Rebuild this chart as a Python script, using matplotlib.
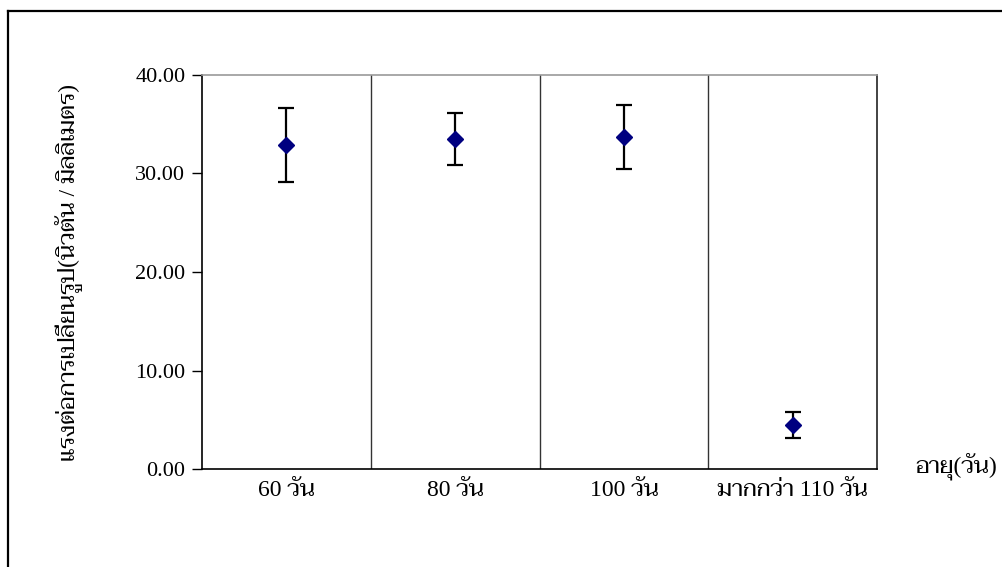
import matplotlib
matplotlib.use("Agg")
import matplotlib.pyplot as plt
from matplotlib.lines import Line2D

# ค่าเฉลี่ยแรงต่อการเปลี่ยนรูป และค่าเบี่ยงเบน ตามอายุ
ages = ["60 วัน", "80 วัน", "100 วัน", "มากกว่า 110 วัน"]
force = [32.90, 33.47, 33.70, 4.47]
err = [3.78, 2.64, 3.26, 1.34]
yticks = [0, 10, 20, 30, 40]

# ตัวเลขใช้ Liberation Serif ส่วนอักษรไทยไปใช้ Taviraj
plt.rcParams["font.family"] = ["Liberation Serif", "Taviraj", "DejaVu Sans"]
FS = 17

fig = plt.figure(figsize=(10.02, 5.67), dpi=100)
W, H = 1002, 567
left, right, top, bottom = 202, 877, 75, 469
ax = fig.add_axes([left / W, 1 - bottom / H, (right - left) / W, (bottom - top) / H])

xs = list(range(len(ages)))
ax.errorbar(xs, force, yerr=err, fmt="none", ecolor="black", elinewidth=1.6,
            capsize=5.8, capthick=1.6, zorder=2)
ax.plot(xs, force, linestyle="none", marker="D", markersize=8,
        color="#000080", zorder=3)

ax.set_xlim(-0.5, len(ages) - 0.5)
ax.set_ylim(0, 40)
ax.set_yticks(yticks)
ax.set_yticklabels(["%.2f" % v for v in yticks], fontsize=16)
ax.set_xticks(xs)
ax.set_xticklabels(ages, fontsize=FS)
ax.tick_params(axis="x", length=0, pad=8)
ax.tick_params(axis="y", direction="out", length=7, width=1, pad=5)

# เส้นแบ่งช่วงอายุ
for x in xs[:-1]:
    ax.axvline(x + 0.5, color="#333333", linewidth=1)

ax.spines["top"].set_color("#9a9a9a")
ax.spines["top"].set_linewidth(1.2)
ax.spines["right"].set_color("#222222")
ax.spines["right"].set_linewidth(1.2)
ax.spines["left"].set_linewidth(1.2)
ax.spines["bottom"].set_linewidth(1.2)

fig.text(68 / W, 1 - 273 / H, "แรงต่อการเปลี่ยนรูป(นิวตัน / มิลลิเมตร)", fontsize=FS,
         rotation=90, ha="center", va="center")
fig.text(956 / W, 1 - 466 / H, "อายุ(วัน)", fontsize=FS, ha="center", va="center")

# กรอบรอบแผนภูมิ
fig.add_artist(Line2D([8 / W, 1], [1 - 11 / H, 1 - 11 / H], color="black", linewidth=1.6))
fig.add_artist(Line2D([8 / W, 8 / W], [0, 1 - 11 / H], color="black", linewidth=1.6))

fig.savefig("out.png", dpi=100)
